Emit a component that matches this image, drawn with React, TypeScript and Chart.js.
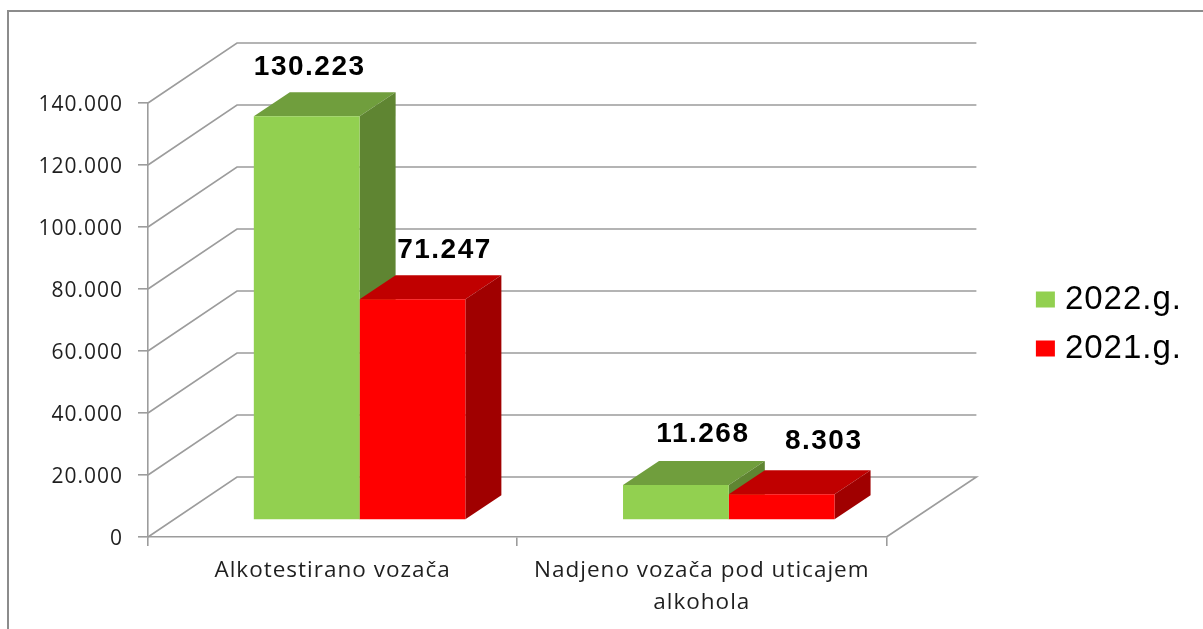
import React, { useEffect, useRef } from "react";
import { Chart, registerables } from "chart.js";

Chart.register(...registerables);

const categories = [
  "Alkotestirano vozača",
  ["Nadjeno vozača pod uticajem", "alkohola"],
];
const seriesNames = ["2022.g.", "2021.g."];
const values2022 = [130223, 11268];
const values2021 = [71247, 8303];

const FRONT = ["#92D050", "#FF0000"];
const TOP = ["#709E3D", "#C00000"];
const SIDE = ["#5F8532", "#A00000"];
const GRID = "#9c9c9c";
const TEXT = "#1f1f1f";

const BAR_SHIFT_X = 27;
const BAR_SHIFT_Y = 17;
const BAR_DEPTH_X = 36;
const BAR_DEPTH_Y = 24;
const WALL_X = 89;
const WALL_Y = 60;

const LABEL_SHIFT = [
  [{ x: 3, y: 41 }, { x: 27, y: 43 }],
  [{ x: 32, y: 41 }, { x: 42, y: 45 }],
];

const fmt = (v: number) => String(v).replace(/\B(?=(\d{3})+$)/g, ".");

const poly = (ctx: any, pts: number[][], fill: string) => {
  ctx.beginPath();
  pts.forEach((p, i) => (i ? ctx.lineTo(p[0], p[1]) : ctx.moveTo(p[0], p[1])));
  ctx.closePath();
  ctx.fillStyle = fill;
  ctx.fill();
};

const scene = {
  id: "scene",
  beforeDraw(chart: any) {
    const ctx = chart.ctx;
    ctx.letterSpacing = "1px";
    ctx.save();
    ctx.strokeStyle = "#8c8c8c";
    ctx.lineWidth = 2;
    ctx.beginPath();
    ctx.moveTo(8, chart.height);
    ctx.lineTo(8, 11);
    ctx.lineTo(chart.width, 11);
    ctx.stroke();
    ctx.restore();
  },
  beforeDatasetsDraw(chart: any) {
    const { ctx, chartArea: a, scales } = chart;
    ctx.save();
    ctx.strokeStyle = GRID;
    ctx.lineWidth = 1.6;
    scales.y.ticks.forEach((t: any) => {
      const y = scales.y.getPixelForValue(t.value);
      ctx.beginPath();
      ctx.moveTo(a.left, y);
      ctx.lineTo(a.left + WALL_X, y - WALL_Y);
      ctx.lineTo(a.right + WALL_X + 1, y - WALL_Y);
      if (t.value === 0) ctx.lineTo(a.right, y);
      ctx.stroke();
    });
    ctx.restore();
    // tops and sides, left series first, so that the right series covers it
    ctx.save();
    ctx.translate(BAR_SHIFT_X, -BAR_SHIFT_Y);
    chart.data.datasets.forEach((_: any, i: number) => {
      chart.getDatasetMeta(i).data.forEach((b: any) => {
        const l = b.x - b.width / 2;
        const r = b.x + b.width / 2;
        poly(ctx, [[l, b.y], [l + BAR_DEPTH_X, b.y - BAR_DEPTH_Y], [r + BAR_DEPTH_X, b.y - BAR_DEPTH_Y], [r, b.y]], TOP[i]);
        poly(ctx, [[r, b.y], [r + BAR_DEPTH_X, b.y - BAR_DEPTH_Y], [r + BAR_DEPTH_X, b.base - BAR_DEPTH_Y], [r, b.base]], SIDE[i]);
      });
    });
    ctx.restore();
  },
  beforeDatasetDraw(chart: any) {
    chart.ctx.save();
    chart.ctx.translate(BAR_SHIFT_X, -BAR_SHIFT_Y);
  },
  afterDatasetDraw(chart: any) {
    chart.ctx.restore();
  },
  afterDatasetsDraw(chart: any) {
    const { ctx } = chart;
    ctx.save();
    ctx.font = 'bold 28px "Liberation Sans"';
    ctx.fillStyle = "#000";
    ctx.textAlign = "center";
    ctx.textBaseline = "alphabetic";
    ctx.letterSpacing = "1.5px";
    chart.data.datasets.forEach((ds: any, i: number) => {
      chart.getDatasetMeta(i).data.forEach((b: any, j: number) => {
        const s = LABEL_SHIFT[i][j];
        ctx.fillText(fmt(ds.data[j]), b.x + BAR_SHIFT_X + s.x, b.y - BAR_SHIFT_Y - s.y);
      });
    });
    ctx.restore();
  },
};

export default function App() {
  const ref = useRef<HTMLCanvasElement>(null);
  useEffect(() => {
    document.body.style.margin = "0";
    document.body.style.background = "#fff";
    const chart = new Chart(ref.current as any, {
      type: "bar",
      data: {
        labels: categories as any,
        datasets: [
          { label: seriesNames[0], data: values2022, backgroundColor: FRONT[0], xAxisID: "x", yAxisID: "y", clip: false as any },
          { label: seriesNames[1], data: values2021, backgroundColor: FRONT[1], xAxisID: "x", yAxisID: "y", clip: false as any },
        ],
      },
      plugins: [scene],
      options: {
        responsive: false,
        animation: false,
        layout: { padding: { top: 19, left: 0, right: 18, bottom: 0 } },
        datasets: { bar: { categoryPercentage: 0.573, barPercentage: 1 } },
        scales: {
          x: {
            offset: true,
            grid: { offset: true, drawOnChartArea: false, drawTicks: true, tickLength: 9, color: GRID, lineWidth: 1.6 },
            border: { color: GRID, width: 1.6 },
            ticks: { color: TEXT, font: { family: '"Open Sans"', size: 22.5, lineHeight: 1.4 }, maxRotation: 0, autoSkip: false, padding: 9 },
            afterFit: (s: any) => { s.height = 92; },
          },
          y: {
            min: 0,
            max: 140000,
            ticks: { stepSize: 20000, color: TEXT, font: { family: '"Open Sans"', size: 21 }, padding: 15, labelOffset: 2, callback: (v: any) => fmt(Number(v)) },
            grid: { drawOnChartArea: false, drawTicks: true, tickLength: 10, color: GRID, lineWidth: 1.6 },
            border: { color: GRID, width: 1.6 },
            afterFit: (s: any) => { s.width = 148; },
          },
          gutterTop: {
            axis: "x",
            type: "linear",
            position: "top",
            display: true,
            grid: { display: false },
            border: { display: false },
            ticks: { display: false },
            afterFit: (s: any) => { s.height = 84; },
          },
          gutter: {
            axis: "y",
            type: "linear",
            position: "right",
            display: true,
            grid: { display: false },
            border: { display: false },
            ticks: { display: false },
            afterFit: (s: any) => { s.width = 140; },
          },
        },
        plugins: {
          tooltip: { enabled: false },
          legend: {
            position: "right",
            labels: {
              color: "#000",
              font: { family: '"Liberation Sans"', size: 33 },
              boxWidth: 6,
              boxHeight: 3,
              padding: 16,
              generateLabels: (c: any) =>
                c.data.datasets.map((d: any, i: number) => ({
                  text: d.label,
                  fillStyle: FRONT[i],
                  strokeStyle: FRONT[i],
                  lineWidth: 13,
                  datasetIndex: i,
                  hidden: false,
                })),
            },
          },
        },
      } as any,
    });
    return () => chart.destroy();
  }, []);
  return <canvas ref={ref} width={1203} height={629} style={{ display: "block", filter: "blur(0.4px)" }} />;
}
